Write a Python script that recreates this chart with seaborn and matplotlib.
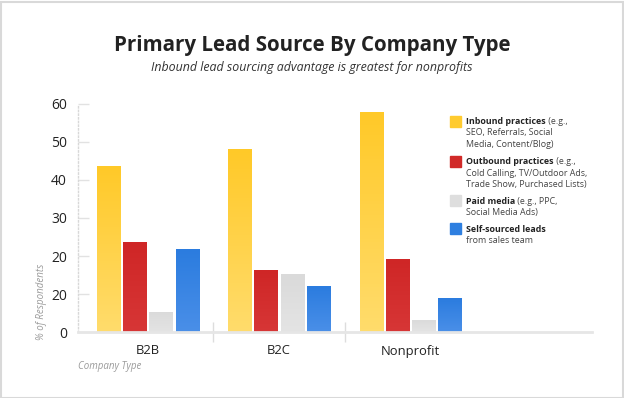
import numpy as np
import pandas as pd
import seaborn as sns
import matplotlib.pyplot as plt
from matplotlib.colors import to_rgb
from matplotlib.patches import Rectangle

# data
companies = ['B2B', 'B2C', 'Nonprofit']
sources = ['Inbound practices', 'Outbound practices', 'Paid media', 'Self-sourced leads']
inbound = [43.7, 48.1, 57.9]
outbound = [23.8, 16.2, 19.1]
paid_media = [5.3, 15.2, 3.2]
self_sourced = [21.8, 12.1, 8.9]
ytick_vals = [0, 10, 20, 30, 40, 50, 60]
ytick_labels = ['0', '20', '20', '30', '40', '50', '60']  # as printed in the original
legend_bold = ['Inbound practices', 'Outbound practices', 'Paid media', 'Self-sourced leads']
legend_first = [' (e.g.,', ' (e.g.,', ' (e.g., PPC,', '']
legend_more = [['SEO, Referrals, Social', 'Media, Content/Blog)'],
               ['Cold Calling, TV/Outdoor Ads,', 'Trade Show, Purchased Lists)'],
               ['Social Media Ads)'],
               ['from sales team']]

colors = ['#FFCB2F', '#D12A28', '#DEDEDE', '#2E7FE0']
grad_top = ['#FFC928', '#CF2626', '#DADADA', '#2B7CDF']
grad_bot = ['#FFDC6C', '#D73636', '#E4E4E4', '#4A8FE8']

df = pd.DataFrame({
    'Company': companies * 4,
    'Source': [s for s in sources for _ in companies],
    'Value': inbound + outbound + paid_media + self_sourced,
})

sns.set_style('white')
plt.rcParams['font.family'] = ['Open Sans', 'DejaVu Sans']

W, H = 624, 398
fig = plt.figure(figsize=(W / 100, H / 100), dpi=100)
ax = fig.add_axes([78 / W, 1 - 332 / H, (592 - 78) / W, (332 - 104) / H])

sns.barplot(data=df, x='Company', y='Value', hue='Source', hue_order=sources,
            palette=colors, saturation=1, width=0.8, gap=0.12, legend=False, ax=ax)

# vertical gradient on each bar
for bar in list(ax.patches):
    fc = np.array(bar.get_facecolor()[:3])
    k = int(np.argmin([np.abs(fc - np.array(to_rgb(c))).sum() for c in colors]))
    x0, y0 = bar.get_x(), bar.get_y()
    w, h = bar.get_width(), bar.get_height()
    if h <= 0:
        continue
    t = np.linspace(0, 1, 64)[:, None]
    c0, c1 = np.array(to_rgb(grad_top[k])), np.array(to_rgb(grad_bot[k]))
    img = (c0 * (1 - t) + c1 * t)[:, None, :].repeat(2, axis=1)
    im = ax.imshow(img, extent=[x0, x0 + w, y0, y0 + h], aspect='auto',
                   origin='upper', zorder=bar.get_zorder() + 0.1)
    im.set_clip_path(bar)

ax.set_xlim(-0.53, 3.38)
ax.set_ylim(0, 60)
ax.set_yticks(ytick_vals, ytick_labels)
ax.set_xticks(range(len(companies)), companies)
ax.set_xticks([0.5, 1.5], minor=True)
ax.tick_params(axis='y', direction='in', length=8, color='#e2e2e2', width=1,
               labelsize=10, labelcolor='#222222', pad=8, left=True)
ax.tick_params(axis='x', which='major', length=0, labelsize=9.4, labelcolor='#222222', pad=9)
ax.tick_params(axis='x', which='minor', direction='inout', length=15, color='#dddddd', width=1, bottom=True)
for s in ['top', 'right']:
    ax.spines[s].set_visible(False)
ax.spines['bottom'].set_color('#e6e6e6')
ax.spines['bottom'].set_linewidth(2)
ax.spines['left'].set_color('#d8d8d8')
ax.spines['left'].set_linestyle(':')
ax.spines['left'].set_linewidth(1)
ax.set_xlabel('')
ax.set_ylabel('')


def px(x, y):
    return x / W, 1 - y / H


fig.text(*px(41.7, 302), '% of Respondents', rotation=90, ha='center', va='center',
         fontsize=7, style='italic', color='#9a9a9a')
fig.text(*px(78, 367), 'Company Type', ha='left', va='center',
         fontsize=7, style='italic', color='#9a9a9a')
fig.text(*px(312, 46), 'Primary Lead Source By Company Type', ha='center', va='center',
         fontsize=14.8, weight='bold', color='#222222')
fig.text(*px(312, 67), 'Inbound lead sourcing advantage is greatest for nonprofits',
         ha='center', va='center', fontsize=8.9, style='italic', color='#333333')

# legend drawn by hand (mixed bold / normal text)
leg_y = [121.7, 161.7, 201, 229.3]
line_h = 11.3
fs = 6.4
for i in range(4):
    y = leg_y[i]
    fig.patches.append(Rectangle(px(449.5, y + 5), 11 / W, 11 / H, color=colors[i],
                                 transform=fig.transFigure, figure=fig))
    tb = fig.text(*px(466, y), legend_bold[i], ha='left', va='center', fontsize=fs,
                  weight='bold', color='#222222')
    if legend_first[i]:
        ax.annotate(legend_first[i], xy=(1, 0.5), xycoords=tb, ha='left', va='center',
                    fontsize=fs, color='#444444', annotation_clip=False)
    for j, line in enumerate(legend_more[i]):
        fig.text(*px(466, y + line_h * (j + 1)), line, ha='left', va='center',
                 fontsize=fs, color='#444444')

# light frame around the image
fig.patches.append(Rectangle((0.5 / W, 0.5 / H), 1 - 1.5 / W, 1 - 2.5 / H, fill=False,
                             edgecolor='#d9d9d9', lw=1.5, transform=fig.transFigure, figure=fig))

fig.savefig('out.png', dpi=100)
